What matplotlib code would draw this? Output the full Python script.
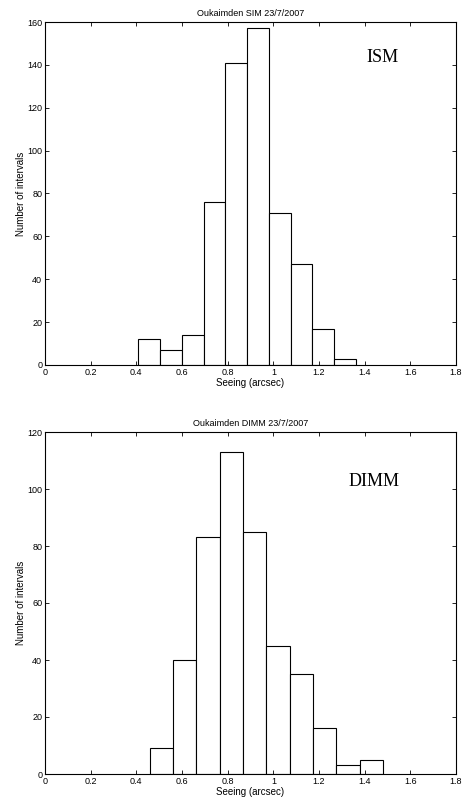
import numpy as np
import matplotlib.pyplot as plt

# ISM histogram (top)
ism_edges = [0.409, 0.505, 0.600, 0.695, 0.790, 0.885, 0.981, 1.076, 1.171, 1.267, 1.362]
ism_counts = [12, 7, 14, 76, 141, 157, 71, 47, 17, 3]

# DIMM histogram (bottom)
dimm_edges = [0.458, 0.561, 0.663, 0.765, 0.867, 0.969, 1.072, 1.174, 1.276, 1.378, 1.480]
dimm_counts = [9, 40, 83, 113, 85, 45, 35, 16, 3, 5]

xticks = [0, 0.2, 0.4, 0.6, 0.8, 1, 1.2, 1.4, 1.6, 1.8]
xticklabels = ['0', '0.2', '0.4', '0.6', '0.8', '1', '1.2', '1.4', '1.6', '1.8']

W, H = 465, 801
plt.rcParams['font.family'] = ['Liberation Sans', 'DejaVu Sans']
plt.rcParams['font.size'] = 6.5

fig = plt.figure(figsize=(W / 100, H / 100), dpi=100)

def make_ax(left, top, right, bottom):
    return fig.add_axes([left / W, 1 - bottom / H, (right - left) / W, (bottom - top) / H])

def draw(ax, edges, counts, ymax, yticks, title, label, lx, ly):
    edges = np.array(edges)
    ax.bar(edges[:-1], counts, width=np.diff(edges), align='edge',
           facecolor='white', edgecolor='black', linewidth=0.8)
    ax.set_xlim(0, 1.8)
    ax.set_ylim(0, ymax)
    ax.set_xticks(xticks)
    ax.set_xticklabels(xticklabels)
    ax.set_yticks(yticks)
    ax.tick_params(direction='in', length=3, width=0.6, top=True, right=True, pad=2)
    for s in ax.spines.values():
        s.set_linewidth(0.8)
    ax.set_title(title, fontsize=6.5, pad=4)
    ax.set_xlabel('Seeing (arcsec)', fontsize=7, labelpad=1)
    ax.set_ylabel('Number of intervals', fontsize=7, labelpad=1)
    ax.text(lx, ly, label, family='Liberation Serif', fontsize=13,
            ha='left', va='center', transform=ax.transAxes)

ax1 = make_ax(45, 22, 456, 365)
draw(ax1, ism_edges, ism_counts, 160, range(0, 161, 20),
     'Oukaimden SIM 23/7/2007', 'ISM', (366 - 45) / 411, 1 - (57 - 22) / 343)

ax2 = make_ax(45, 432, 456, 774)
draw(ax2, dimm_edges, dimm_counts, 120, range(0, 121, 20),
     'Oukaimden DIMM 23/7/2007', 'DIMM', (349 - 45) / 411, 1 - (481 - 432) / 342)

plt.savefig('out.png', dpi=100)
